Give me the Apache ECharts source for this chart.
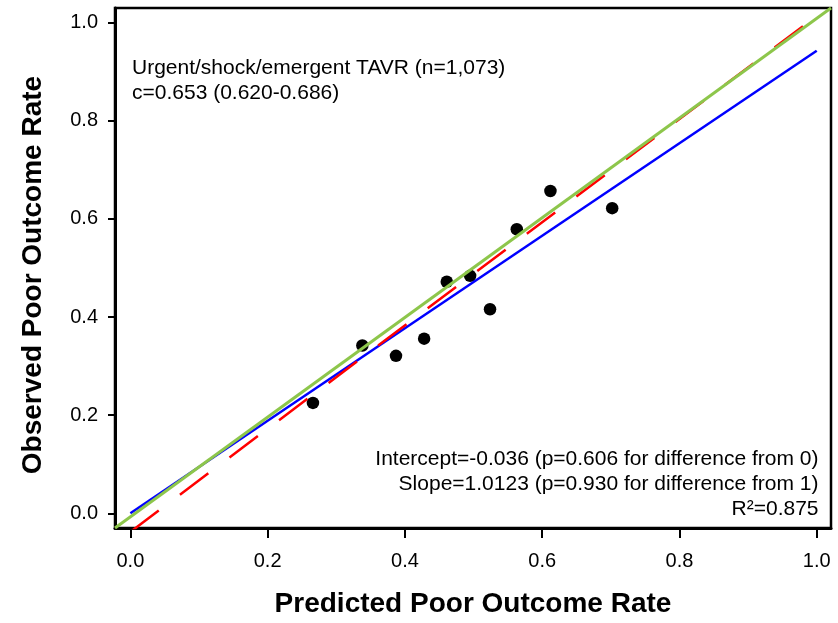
<!DOCTYPE html>
<html>
<head>
<meta charset="utf-8">
<script src="https://cdn.jsdelivr.net/npm/echarts@6/dist/echarts.min.js"></script>
<style>
  html, body { margin: 0; padding: 0; background: #fff; }
  #chart { width: 838px; height: 623px; }
</style>
</head>
<body>
<div id="chart"></div>
<script>
// Calibration points: predicted vs observed poor outcome rate
const predicted = [0.266, 0.338, 0.387, 0.428, 0.461, 0.495, 0.524, 0.563, 0.612, 0.702];
const observed  = [0.225, 0.342, 0.321, 0.356, 0.472, 0.484, 0.416, 0.579, 0.657, 0.622];

// Tick values shared by both axes
const tickValues = [0, 0.2, 0.4, 0.6, 0.8, 1.0];

// Fitted calibration line (blue) and recalibrated line (red dashed)
const fitLineX = [0, 1];
const fitLineY = [0.0, 0.943];
const recalLineX = [0, 1];
const recalLineY = [-0.038, 1.014];

// Axis extents (the green reference runs corner to corner)
const xRange = [-0.0224, 1.0208];
const yRange = [-0.030, 1.030];

// Annotation texts
const cohortLines = ['Urgent/shock/emergent TAVR (n=1,073)', 'c=0.653 (0.620-0.686)'];
const statLines = [
  'Intercept=-0.036 (p=0.606 for difference from 0)',
  'Slope=1.0123 (p=0.930 for difference from 1)',
  'R\u00B2=0.875'
];

const FONT = '"Liberation Sans", Arial, Helvetica, sans-serif';

const zip = (xs, ys) => xs.map((x, i) => [x, ys[i]]);

const chart = echarts.init(document.getElementById('chart'), null, { renderer: 'canvas' });

function valueAxis(range, opts) {
  return {
    type: 'value',
    min: range[0],
    max: range[1],
    name: opts.name,
    nameLocation: 'middle',
    nameGap: opts.nameGap,
    nameTextStyle: Object.assign({
      fontFamily: FONT, fontSize: 28, fontWeight: 'bold', color: '#000'
    }, opts.nameStyle || {}),
    axisLine: { show: true, onZero: false, lineStyle: { color: '#000', width: 3 } },
    axisTick: {
      show: true, inside: false, length: opts.tickLen,
      customValues: tickValues,
      lineStyle: { color: '#000', width: 2 }
    },
    axisLabel: {
      show: true,
      customValues: tickValues,
      formatter: v => Number(v).toFixed(1),
      fontFamily: FONT, fontSize: 20, color: '#000',
      margin: opts.labelMargin
    },
    splitLine: { show: false }
  };
}

// Right-aligned statistics block, one text element per line
const statGraphics = statLines.map((line, i) => ({
  type: 'text',
  right: 19.5,
  top: 449 + i * 25,
  z: 10,
  style: {
    text: line,
    font: '21px ' + FONT,
    fill: '#000'
  }
}));

const option = {
  animation: false,
  backgroundColor: '#fff',
  grid: {
    left: 115, right: 7, top: 8, bottom: 95,
    show: true, borderColor: '#000', borderWidth: 2.5,
    backgroundColor: 'transparent'
  },
  xAxis: valueAxis(xRange, {
    name: 'Predicted Poor Outcome Rate', nameGap: 62, tickLen: 10, labelMargin: 23
  }),
  yAxis: valueAxis(yRange, {
    name: 'Observed Poor Outcome Rate', nameGap: 68, tickLen: 7, labelMargin: 17,
    nameStyle: { padding: [0, 14, 0, 0] }
  }),
  series: [
    {
      type: 'scatter',
      data: zip(predicted, observed),
      symbol: 'circle',
      symbolSize: 12.5,
      itemStyle: { color: '#000', opacity: 1 },
      z: 2
    },
    {
      type: 'line',
      data: zip(fitLineX, fitLineY),
      symbol: 'none',
      clip: true,
      lineStyle: { color: '#0000ff', width: 2.5 },
      z: 3
    },
    {
      type: 'line',
      data: zip(recalLineX, recalLineY),
      symbol: 'none',
      clip: true,
      lineStyle: { color: '#ff0000', width: 2.5, type: [35.5, 26.5] },
      z: 4
    },
    {
      type: 'line',
      data: [[xRange[0], yRange[0]], [xRange[1], yRange[1]]],
      symbol: 'none',
      clip: true,
      lineStyle: { color: '#8dc64b', width: 3 },
      z: 5
    }
  ],
  graphic: [
    {
      type: 'text',
      left: 132,
      top: 56,
      z: 10,
      style: {
        text: cohortLines.join('\n'),
        font: '21px ' + FONT,
        lineHeight: 25,
        fill: '#000'
      }
    }
  ].concat(statGraphics)
};

chart.setOption(option);
</script>
</body>
</html>
